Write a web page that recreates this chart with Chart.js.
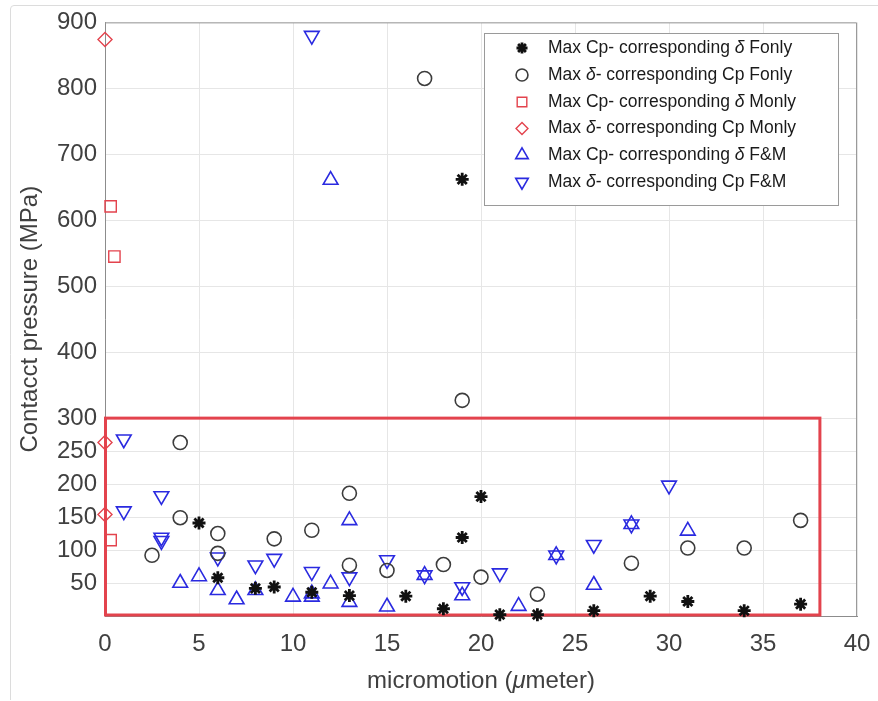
<!DOCTYPE html>
<html>
<head>
<meta charset="utf-8">
<script src="https://cdn.jsdelivr.net/npm/chart.js@4/dist/chart.umd.min.js"></script>
<style>
  html, body { margin: 0; padding: 0; background: #fff; }
  #wrap { width: 878px; height: 701px; position: relative; }
</style>
</head>
<body>
<div id="wrap"><canvas id="chart"></canvas></div>
<script>
// Max Cp - corresponding delta, F only (black stars)
const cpFonlyX = [5, 6, 8, 9, 11, 13, 16, 18, 19, 19, 20, 21, 23, 26, 29, 31, 34, 37];
const cpFonlyY = [141, 58, 42, 44, 36, 31, 30, 11, 119, 662, 181, 2, 2, 8, 30, 22, 8, 18];

// Max delta - corresponding Cp, F only (black circles)
const dFonlyX = [2.5, 4, 4, 6, 6, 9, 11, 13, 13, 15, 17, 18, 19, 20, 23, 28, 31, 34, 37];
const dFonlyY = [92, 263, 149, 125, 95, 117, 130, 186, 77, 69, 815, 78, 327, 59, 33, 80, 103, 103, 145];

// Max Cp - corresponding delta, M only (red squares)
const cpMonlyX = [0.3, 0.5, 0.3];
const cpMonlyY = [621, 545, 115];

// Max delta - corresponding Cp, M only (red diamonds)
const dMonlyX = [0, 0, 0];
const dMonlyY = [874, 263, 154];

// Max Cp - corresponding delta, F&M (blue up triangles)
const cpFMX = [4, 5, 6, 7, 8, 10, 11, 11, 12, 12, 13, 13, 15, 17, 19, 22, 24, 26, 28, 31];
const cpFMY = [50, 60, 39, 25, 39, 29, 29, 34, 661, 49, 145, 21, 14, 62, 31, 15, 92, 47, 139, 129];

// Max delta - corresponding Cp, F&M (blue down triangles)
const dFMX = [1, 1, 3, 3, 3, 6, 8, 9, 11, 11, 13, 15, 17, 19, 21, 24, 26, 28, 30];
const dFMY = [268, 159, 182, 119, 114, 89, 77, 87, 880, 67, 59, 85, 62, 44, 65, 92, 108, 139, 198];

// legend labels, split so the delta can be set in italics
const seriesLabels = [
  ['Max Cp- corresponding ', 'δ', ' Fonly'],
  ['Max ', 'δ', '- corresponding Cp Fonly'],
  ['Max Cp- corresponding ', 'δ', ' Monly'],
  ['Max ', 'δ', '- corresponding Cp Monly'],
  ['Max Cp- corresponding ', 'δ', ' F&M'],
  ['Max ', 'δ', '- corresponding Cp F&M']
];

const yTicks = [50, 100, 150, 200, 250, 300, 400, 500, 600, 700, 800, 900];
const xTitle = ['micromotion (', 'μ', 'meter)'];
const yTitle = 'Contacct pressure (MPa)';
const boxX = [0, 38];
const boxY = [0, 300];

const FONT = "'Liberation Sans', Arial, sans-serif";
const TXT = '#404040';
const RED = '#e3434d';
const BLUE = '#2a2ae0';
const BLACK = '#111111';
const GREY = '#3c3c3c';

function pts(xs, ys) {
  return xs.map((x, i) => ({ x: x, y: ys[i] }));
}

const styles = [
  { pointStyle: 'star', radius: 6.5, rotation: 0, border: BLACK, fill: BLACK, width: 2.8 },
  { pointStyle: 'circle', radius: 7, rotation: 0, border: GREY, fill: 'rgba(0,0,0,0)', width: 1.6 },
  { pointStyle: 'rect', radius: 8, rotation: 0, border: RED, fill: 'rgba(0,0,0,0)', width: 1.4 },
  { pointStyle: 'rectRot', radius: 7, rotation: 0, border: RED, fill: 'rgba(0,0,0,0)', width: 1.4 },
  { pointStyle: 'triangle', radius: 8.5, rotation: 0, border: BLUE, fill: 'rgba(0,0,0,0)', width: 1.6 },
  { pointStyle: 'triangle', radius: 8.5, rotation: 180, border: BLUE, fill: 'rgba(0,0,0,0)', width: 1.6 }
];

const seriesData = [
  pts(cpFonlyX, cpFonlyY),
  pts(dFonlyX, dFonlyY),
  pts(cpMonlyX, cpMonlyY),
  pts(dMonlyX, dMonlyY),
  pts(cpFMX, cpFMY),
  pts(dFMX, dFMY)
];

const datasets = seriesData.map((d, i) => ({
  label: seriesLabels[i].join(''),
  data: d,
  showLine: false,
  clip: false,
  pointStyle: styles[i].pointStyle,
  rotation: styles[i].rotation,
  pointRadius: styles[i].radius,
  pointHoverRadius: styles[i].radius,
  borderColor: styles[i].border,
  backgroundColor: styles[i].fill,
  pointBorderWidth: styles[i].width
}));

// fallback marker drawing if Chart.helpers is not exposed
function marker(ctx, st, r, x, y) {
  if (Chart.helpers && Chart.helpers.drawPoint) {
    Chart.helpers.drawPoint(ctx, {
      pointStyle: st.pointStyle, rotation: st.rotation, radius: r, borderWidth: st.width
    }, x, y);
    return;
  }
  ctx.beginPath();
  if (st.pointStyle === 'circle') {
    ctx.arc(x, y, r, 0, Math.PI * 2);
  } else if (st.pointStyle === 'rect') {
    const s = r * Math.SQRT1_2;
    ctx.rect(x - s, y - s, 2 * s, 2 * s);
  } else if (st.pointStyle === 'rectRot') {
    ctx.moveTo(x, y - r); ctx.lineTo(x + r, y); ctx.lineTo(x, y + r); ctx.lineTo(x - r, y); ctx.closePath();
  } else if (st.pointStyle === 'triangle') {
    const dir = st.rotation ? -1 : 1;
    ctx.moveTo(x, y - dir * r);
    ctx.lineTo(x + r * 0.866, y + dir * r * 0.5);
    ctx.lineTo(x - r * 0.866, y + dir * r * 0.5);
    ctx.closePath();
  } else {
    for (let a = 0; a < 4; a++) {
      const t = a * Math.PI / 4;
      ctx.moveTo(x - Math.cos(t) * r, y - Math.sin(t) * r);
      ctx.lineTo(x + Math.cos(t) * r, y + Math.sin(t) * r);
    }
  }
  ctx.fill();
  ctx.stroke();
}

// red box, frame and legend are drawn by hand
const extras = {
  id: 'extras',
  beforeDatasetsDraw(chart) {
    const { ctx, chartArea, scales } = chart;
    ctx.save();
    // top and right frame lines
    ctx.strokeStyle = '#9a9a9a';
    ctx.lineWidth = 1;
    ctx.beginPath();
    ctx.moveTo(chartArea.left, chartArea.top + 0.5);
    ctx.lineTo(chartArea.right - 0.5, chartArea.top + 0.5);
    ctx.lineTo(chartArea.right - 0.5, chartArea.bottom);
    ctx.stroke();
    // red highlight box
    const x0 = scales.x.getPixelForValue(boxX[0]);
    const x1 = scales.x.getPixelForValue(boxX[1]);
    const y0 = scales.y.getPixelForValue(boxY[0]);
    const y1 = scales.y.getPixelForValue(boxY[1]);
    ctx.strokeStyle = RED;
    ctx.lineWidth = 3;
    ctx.strokeRect(x0 + 0.5, y1, x1 - x0, y0 - y1 - 1);
    ctx.restore();
  },
  afterDraw(chart) {
    const { ctx } = chart;
    ctx.save();
    // outer figure border
    ctx.strokeStyle = '#dcdcdc';
    ctx.lineWidth = 1;
    ctx.beginPath();
    ctx.moveTo(10.5, 700);
    ctx.lineTo(10.5, 9);
    ctx.quadraticCurveTo(10.5, 5.5, 14, 5.5);
    ctx.lineTo(878, 5.5);
    ctx.stroke();

    // legend box
    const lx = 484, ly = 33, lw = 354, lh = 172;
    ctx.fillStyle = '#ffffff';
    ctx.fillRect(lx, ly, lw, lh);
    ctx.strokeStyle = '#9a9a9a';
    ctx.lineWidth = 1;
    ctx.strokeRect(lx + 0.5, ly + 0.5, lw, lh);

    const rowY = [48, 75, 102, 128.5, 155, 182];
    ctx.textBaseline = 'middle';
    seriesLabels.forEach((parts, i) => {
      const st = styles[i];
      const y = rowY[i];
      ctx.save();
      ctx.strokeStyle = st.border;
      ctx.fillStyle = st.fill;
      ctx.lineWidth = st.width;
      marker(ctx, st, st.radius * 0.85, 522, y);
      ctx.restore();
      let x = 548;
      ctx.fillStyle = '#1a1a1a';
      parts.forEach((p, k) => {
        ctx.font = (k === 1 ? 'italic ' : '') + '17.5px ' + FONT;
        ctx.fillText(p, x, y);
        x += ctx.measureText(p).width;
      });
    });

    // x axis title with italic mu
    ctx.fillStyle = TXT;
    ctx.textBaseline = 'middle';
    const widths = xTitle.map((p, k) => {
      ctx.font = (k === 1 ? 'italic ' : '') + '24px ' + FONT;
      return ctx.measureText(p).width;
    });
    const total = widths.reduce((a, b) => a + b, 0);
    let tx = (chart.chartArea.left + chart.chartArea.right) / 2 - total / 2;
    xTitle.forEach((p, k) => {
      ctx.font = (k === 1 ? 'italic ' : '') + '24px ' + FONT;
      ctx.fillText(p, tx, 681);
      tx += widths[k];
    });
    ctx.restore();
  }
};

new Chart(document.getElementById('chart'), {
  type: 'scatter',
  data: { datasets: datasets },
  plugins: [extras],
  options: {
    responsive: true,
    maintainAspectRatio: false,
    animation: false,
    layout: { padding: { left: 0, top: 20, right: 21, bottom: 0 } },
    plugins: {
      legend: { display: false },
      tooltip: { enabled: false }
    },
    scales: {
      x: {
        type: 'linear',
        min: 0,
        max: 40,
        afterFit(scale) {
          scale.height = 85;
          scale.paddingLeft = 0;
          scale.paddingRight = 0;
        },
        ticks: {
          stepSize: 5,
          padding: 14,
          color: TXT,
          font: { family: FONT, size: 24 }
        },
        grid: { color: '#e6e6e6', drawTicks: false },
        border: { color: '#8c8c8c' }
      },
      y: {
        type: 'linear',
        min: 0,
        max: 900,
        afterFit(scale) { scale.width = 105; },
        afterBuildTicks(scale) {
          scale.ticks = yTicks.map(v => ({ value: v }));
        },
        ticks: {
          padding: 8,
          color: TXT,
          font: { family: FONT, size: 24 }
        },
        grid: { color: '#e6e6e6', drawTicks: false },
        border: { color: '#8c8c8c' },
        title: {
          display: true,
          text: yTitle,
          color: TXT,
          font: { family: FONT, size: 24 },
          padding: { top: 16, bottom: 0 }
        }
      }
    }
  }
});
</script>
</body>
</html>
